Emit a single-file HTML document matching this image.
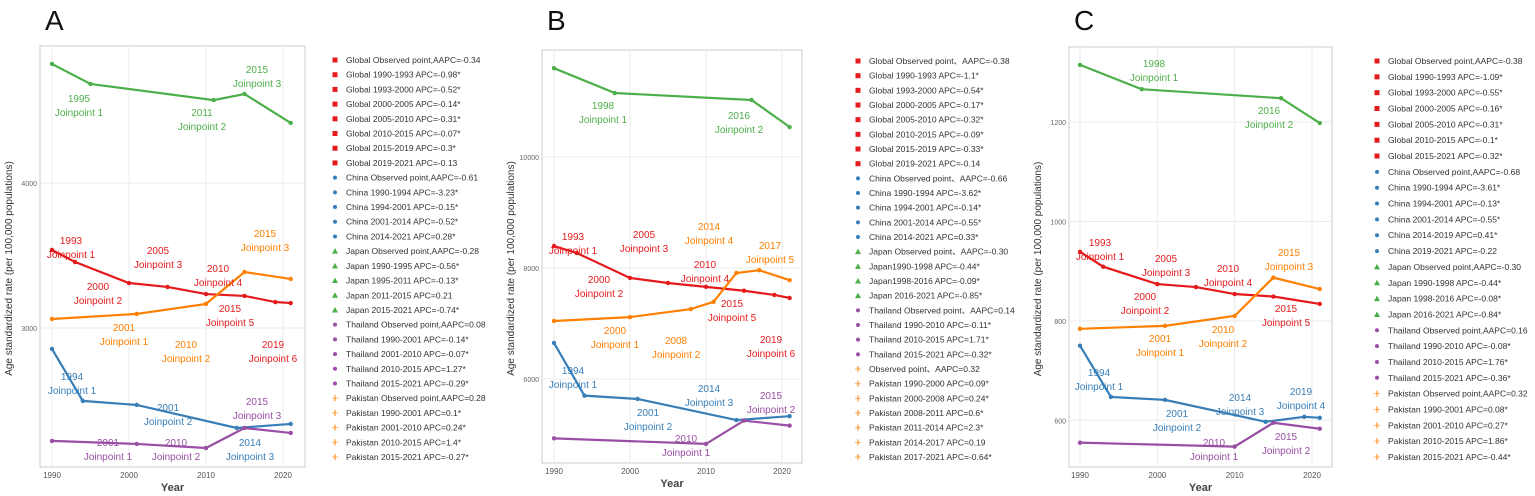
<!DOCTYPE html>
<html><head><meta charset="utf-8"><style>
body{margin:0;background:#fff;width:1535px;height:496px;overflow:hidden;font-family:"Liberation Sans",sans-serif}
svg{position:absolute;left:0;top:0}
</style></head><body>
<svg id="chart" width="1535" height="496" xmlns="http://www.w3.org/2000/svg"></svg>
<script>
const years = [1990, 2000, 2010, 2020];
const colors = {Global:'#e41a1c',China:'#377eb8',Japan:'#4daf4a',Thailand:'#984ea3',Pakistan:'#ff7f00'};
// Panel A series (joinpoint years / values)
const aJapanX=[1990,1995,2011,2015,2021], aJapanY=[4821,4683,4572,4614,4414];
const aGlobalX=[1990,1993,2000,2005,2010,2015,2019,2021], aGlobalY=[3538,3455,3310,3283,3234,3221,3179,3172];
const aPakX=[1990,2001,2010,2015,2021], aPakY=[3062,3097,3166,3386,3338];
const aChinaX=[1990,1994,2001,2014,2021], aChinaY=[2855,2497,2469,2310,2338];
const aThaiX=[1990,2001,2010,2015,2021], aThaiY=[2221,2200,2172,2310,2276];
// Panel B
const bJapanX=[1990,1998,2016,2021], bJapanY=[11600,11153,11027,10540];
const bGlobalX=[1990,1993,2000,2005,2010,2015,2019,2021], bGlobalY=[8396,8270,7820,7730,7660,7590,7515,7460];
const bPakX=[1990,2000,2008,2011,2014,2017,2021], bPakY=[7045,7115,7260,7390,7910,7960,7780];
const bChinaX=[1990,1994,2001,2014,2021], bChinaY=[6650,5700,5640,5260,5330];
const bThaiX=[1990,2010,2015,2021], bThaiY=[4930,4830,5250,5160];
// Panel C
const cJapanX=[1990,1998,2016,2021], cJapanY=[1315,1266,1248,1198];
const cGlobalX=[1990,1993,2000,2005,2010,2015,2021], cGlobalY=[939,909,874,868,854,849,834];
const cPakX=[1990,2001,2010,2015,2021], cPakY=[784,790,810,887,864];
const cChinaX=[1990,1994,2001,2014,2019,2021], cChinaY=[750,647,641,597,607,605];
const cThaiX=[1990,2010,2015,2021], cThaiY=[555,547,595,583];
const aTicks=[3000,4000], bTicks=[6000,8000,10000], cTicks=[600,800,1000,1200];
const aLegend=["Global Observed point,AAPC=-0.34","Global 1990-1993 APC=-0.98*","Global 1993-2000 APC=-0.52*","Global 2000-2005 APC=-0.14*","Global 2005-2010 APC=-0.31*","Global 2010-2015 APC=-0.07*","Global 2015-2019 APC=-0.3*","Global 2019-2021 APC=-0.13","China Observed point,AAPC=-0.61","China 1990-1994 APC=-3.23*","China 1994-2001 APC=-0.15*","China 2001-2014 APC=-0.52*","China 2014-2021 APC=0.28*","Japan Observed point,AAPC=-0.28","Japan 1990-1995 APC=-0.56*","Japan 1995-2011 APC=-0.13*","Japan 2011-2015 APC=0.21","Japan 2015-2021 APC=-0.74*","Thailand Observed point,AAPC=0.08","Thailand 1990-2001 APC=-0.14*","Thailand 2001-2010 APC=-0.07*","Thailand 2010-2015 APC=1.27*","Thailand 2015-2021 APC=-0.29*","Pakistan Observed point,AAPC=0.28","Pakistan 1990-2001 APC=0.1*","Pakistan 2001-2010 APC=0.24*","Pakistan 2010-2015 APC=1.4*","Pakistan 2015-2021 APC=-0.27*"];
const bLegend=["Global Observed point\u3001AAPC=-0.38","Global 1990-1993 APC=-1.1*","Global 1993-2000 APC=-0.54*","Global 2000-2005 APC=-0.17*","Global 2005-2010 APC=-0.32*","Global 2010-2015 APC=-0.09*","Global 2015-2019 APC=-0.33*","Global 2019-2021 APC=-0.14","China Observed point\u3001AAPC=-0.66","China 1990-1994 APC=-3.62*","China 1994-2001 APC=-0.14*","China 2001-2014 APC=-0.55*","China 2014-2021 APC=0.33*","Japan Observed point\u3001AAPC=-0.30","Japan1990-1998 APC=-0.44*","Japan1998-2016 APC=-0.09*","Japan 2016-2021 APC=-0.85*","Thailand Observed point\u3001AAPC=0.14","Thailand 1990-2010 APC=-0.11*","Thailand 2010-2015 APC=1.71*","Thailand 2015-2021 APC=-0.32*","Observed point\u3001AAPC=0.32","Pakistan 1990-2000 APC=0.09*","Pakistan 2000-2008 APC=0.24*","Pakistan 2008-2011 APC=0.6*","Pakistan 2011-2014 APC=2.3*","Pakistan 2014-2017 APC=0.19","Pakistan 2017-2021 APC=-0.64*"];
const cLegend=["Global Observed point,AAPC=-0.38","Global 1990-1993 APC=-1.09*","Global 1993-2000 APC=-0.55*","Global 2000-2005 APC=-0.16*","Global 2005-2010 APC=-0.31*","Global 2010-2015 APC=-0.1*","Global 2015-2021 APC=-0.32*","China Observed point,AAPC=-0.68","China 1990-1994 APC=-3.61*","China 1994-2001 APC=-0.13*","China 2001-2014 APC=-0.55*","China 2014-2019 APC=0.41*","China 2019-2021 APC=-0.22","Japan Observed point,AAPC=-0.30","Japan 1990-1998 APC=-0.44*","Japan 1998-2016 APC=-0.08*","Japan 2016-2021 APC=-0.84*","Thailand Observed point,AAPC=0.16","Thailand 1990-2010 APC=-0.08*","Thailand 2010-2015 APC=1.76*","Thailand 2015-2021 APC=-0.36*","Pakistan Observed point,AAPC=0.32","Pakistan 1990-2001 APC=0.08*","Pakistan 2001-2010 APC=0.27*","Pakistan 2010-2015 APC=1.86*","Pakistan 2015-2021 APC=-0.44*"];

const NS='http://www.w3.org/2000/svg', svg=document.getElementById('chart');
function el(tag,attrs,parent,text){const e=document.createElementNS(NS,tag);for(const k in attrs)e.setAttribute(k,attrs[k]);if(text!==undefined)e.textContent=text;(parent||svg).appendChild(e);return e;}
function legendColor(s){for(const k in colors)if(s.indexOf(k)===0)return colors[k];return colors.Pakistan;}

const panels=[
 {id:'a',letter:'A',fx0:40,fx1:305,fy0:46,fy1:467,px1990:52,px2020:283,vTop:4945,vBot:2041,ticks:aTicks,
  series:[['Japan',aJapanX,aJapanY],['Global',aGlobalX,aGlobalY],['Pakistan',aPakX,aPakY],['China',aChinaX,aChinaY],['Thailand',aThaiX,aThaiY]],
  legend:aLegend,lx:335,ly0:60,ly1:457,
  ann:[['Japan','1995','Joinpoint 1',79,98],['Japan','2011','Joinpoint 2',202,112],['Japan','2015','Joinpoint 3',257,69],
   ['Global','1993','Joinpoint 1',71,240],['Global','2005','Joinpoint 3',158,250],['Global','2000','Joinpoint 2',98,286],['Global','2010','Joinpoint 4',218,268],['Global','2015','Joinpoint 5',230,308],['Global','2019','Joinpoint 6',273,344],
   ['Pakistan','2015','Joinpoint 3',265,233],['Pakistan','2001','Joinpoint 1',124,327],['Pakistan','2010','Joinpoint 2',186,344],
   ['China','1994','Joinpoint 1',72,376],['China','2001','Joinpoint 2',168,407],['China','2014','Joinpoint 3',250,442],
   ['Thailand','2001','Joinpoint 1',108,442],['Thailand','2010','Joinpoint 2',176,442],['Thailand','2015','Joinpoint 3',257,401]]},
 {id:'b',letter:'B',fx0:542,fx1:802,fy0:50,fy1:463,px1990:554,px2020:782,vTop:11928,vBot:4486,ticks:bTicks,
  series:[['Japan',bJapanX,bJapanY],['Global',bGlobalX,bGlobalY],['Pakistan',bPakX,bPakY],['China',bChinaX,bChinaY],['Thailand',bThaiX,bThaiY]],
  legend:bLegend,lx:858,ly0:61,ly1:457,
  ann:[['Japan','1998','Joinpoint 1',603,105],['Japan','2016','Joinpoint 2',739,115],
   ['Global','1993','Joinpoint 1',573,236],['Global','2005','Joinpoint 3',644,234],['Global','2000','Joinpoint 2',599,279],['Global','2010','Joinpoint 4',705,264],['Global','2015','Joinpoint 5',732,303],['Global','2019','Joinpoint 6',771,339],
   ['Pakistan','2014','Joinpoint 4',709,226],['Pakistan','2017','Joinpoint 5',770,245],['Pakistan','2000','Joinpoint 1',615,330],['Pakistan','2008','Joinpoint 2',676,340],
   ['China','1994','Joinpoint 1',573,370],['China','2014','Joinpoint 3',709,388],['China','2001','Joinpoint 2',648,412],
   ['Thailand','2015','Joinpoint 2',771,395],['Thailand','2010','Joinpoint 1',686,438]]},
 {id:'c',letter:'C',fx0:1069,fx1:1332,fy0:47,fy1:467,px1990:1080,px2020:1312,vTop:1351,vBot:506,ticks:cTicks,
  series:[['Japan',cJapanX,cJapanY],['Global',cGlobalX,cGlobalY],['Pakistan',cPakX,cPakY],['China',cChinaX,cChinaY],['Thailand',cThaiX,cThaiY]],
  legend:cLegend,lx:1377,ly0:61,ly1:457,
  ann:[['Japan','1998','Joinpoint 1',1154,63],['Japan','2016','Joinpoint 2',1269,110],
   ['Global','1993','Joinpoint 1',1100,242],['Global','2005','Joinpoint 3',1166,258],['Global','2010','Joinpoint 4',1228,268],['Global','2000','Joinpoint 2',1145,296],['Global','2015','Joinpoint 5',1286,308],
   ['Pakistan','2015','Joinpoint 3',1289,252],['Pakistan','2010','Joinpoint 2',1223,329],['Pakistan','2001','Joinpoint 1',1160,338],
   ['China','1994','Joinpoint 1',1099,372],['China','2014','Joinpoint 3',1240,397],['China','2019','Joinpoint 4',1301,391],['China','2001','Joinpoint 2',1177,413],
   ['Thailand','2015','Joinpoint 2',1286,436],['Thailand','2010','Joinpoint 1',1214,442]]}
];

panels.forEach(p=>{
  const g=el('g',{});
  
  
  const xs=y=>p.px1990+(y-1990)*(p.px2020-p.px1990)/30;
  const ys=v=>p.fy0+(p.vTop-v)*(p.fy1-p.fy0)/(p.vTop-p.vBot);
  const t=el('text',{x:p.fx0+5,y:30,'font-size':28,'font-family':'Liberation Sans,sans-serif',fill:'#111'},g,p.letter);
  
  
  const fr=el('rect',{x:p.fx0,y:p.fy0,width:p.fx1-p.fx0,height:p.fy1-p.fy0,fill:'#fff',stroke:'#ccc','stroke-width':1},g);
  
  
  years.forEach(yr=>{
    const gl=el('line',{x1:xs(yr),x2:xs(yr),y1:p.fy0,y2:p.fy1,stroke:'#ebebeb'},g);
    
    
    const tl=el('text',{x:xs(yr),y:p.fy1+11,'font-size':8,'text-anchor':'middle',fill:'#555'},g,yr);
    
    
  });
  p.ticks.forEach(v=>{
    const gl=el('line',{x1:p.fx0,x2:p.fx1,y1:ys(v),y2:ys(v),stroke:'#ebebeb'},g);
    
    
    const tl=el('text',{x:p.fx0-3,y:ys(v)+3,'font-size':7,'text-anchor':'end',fill:'#666'},g,v);
    
    
  });
  const xt=el('text',{x:(p.fx0+p.fx1)/2,y:p.fy1+24,'font-size':11,'font-weight':'bold','text-anchor':'middle',fill:'#444'},g,'Year');
  
  
  const cy=(p.fy0+p.fy1)/2+12;
  const yt=el('text',{x:p.fx0-28,y:cy,'font-size':10,'text-anchor':'middle',fill:'#333',transform:`rotate(-90 ${p.fx0-28} ${cy})`},g,'Age standardized rate (per 100,000 populations)');
  
  
  p.series.forEach(([name,X,Y])=>{
    const pl=el('polyline',{points:X.map((x,i)=>xs(x)+','+ys(Y[i])).join(' '),fill:'none',stroke:colors[name],'stroke-width':2.2},g);
    
    
    X.forEach((x,i)=>{
      const c=el('circle',{cx:xs(x),cy:ys(Y[i]),r:2.2,fill:colors[name]},g);
      
      
    });
  });
  p.ann.forEach(([name,yr,lab,x,y])=>{
    const a=el('text',{x:x,y:y+4,'font-size':10,'text-anchor':'middle',fill:colors[name]},g,yr);
    
    
    const b=el('text',{x:x,y:y+18,'font-size':10,'text-anchor':'middle',fill:colors[name]},g,lab);
    
    
  });
  const n=p.legend.length, step=(p.ly1-p.ly0)/(n-1);
  p.legend.forEach((s,i)=>{
    const y=p.ly0+i*step, c=legendColor(s);
    const lg=el('g',{},g);
    
    
    if(c===colors.Global) el('rect',{x:p.lx-2.5,y:y-2.5,width:5,height:5,fill:c},lg);
    else if(c===colors.Japan) el('polygon',{points:`${p.lx},${y-3} ${p.lx+3},${y+2.5} ${p.lx-3},${y+2.5}`,fill:c},lg);
    else if(c===colors.Pakistan){el('line',{x1:p.lx,x2:p.lx,y1:y-3,y2:y+3,stroke:c,'stroke-width':1},lg);el('line',{x1:p.lx-3,x2:p.lx+3,y1:y,y2:y,stroke:c,'stroke-width':1,opacity:0.6},lg);}
    else el('circle',{cx:p.lx,cy:y,r:2,fill:c},lg);
    el('text',{x:p.lx+11,y:y+3,'font-size':8.5,fill:'#333'},lg,s);
  });
});
</script>
</body></html>
